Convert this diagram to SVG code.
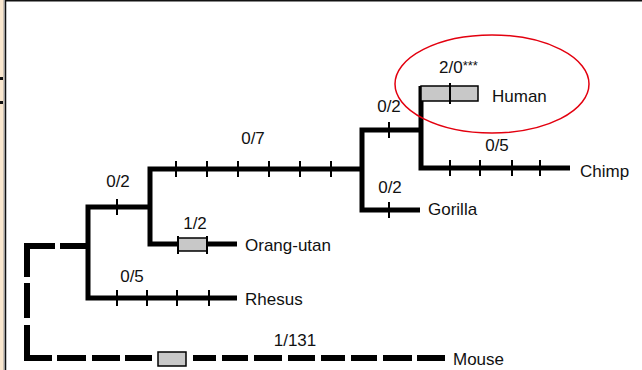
<svg xmlns="http://www.w3.org/2000/svg" width="642" height="370" viewBox="0 0 642 370">
<style>
.br{fill:none;stroke:#000;stroke-width:5;stroke-linejoin:miter;stroke-linecap:butt}
.ds{fill:none;stroke:#000;stroke-width:6;stroke-linejoin:miter;stroke-linecap:butt}
.tk{stroke:#000;stroke-width:2}
.box{fill:#c8c8c8;stroke:#000;stroke-width:1.5}
text{font-family:"Liberation Sans",Arial,sans-serif;font-size:17px;fill:#111}
.c{text-anchor:middle}
</style>
<rect width="642" height="370" fill="#fff"/>
<g id="frame">
<rect x="0" y="0" width="4" height="370" fill="#fbe8cf"/>
<line x1="4" y1="0" x2="4" y2="370" stroke="#999" stroke-width="1"/>
<line x1="5.5" y1="0" x2="5.5" y2="370" stroke="#111" stroke-width="1.5"/>
<line x1="5" y1="0.8" x2="642" y2="0.8" stroke="#111" stroke-width="1.6"/>
<rect x="0" y="77" width="3" height="3" fill="#111"/>
<rect x="0" y="101" width="3" height="3" fill="#111"/>
</g>
<g id="connectors">
<path class="ds" d="M55,246 H27 V277"/>
<path class="ds" d="M60,246 H88"/>
<path class="ds" d="M27,283 V318"/>
<path class="ds" d="M27,325 V358 H52"/>
<path class="ds" d="M57,358 H86 M92,358 H120 M125,358 H152 M193,358 H216 M222,358 H248 M254,358 H282 M288,358 H315 M321,358 H345 M351,358 H377 M383,358 H412 M417,358 H445"/>
<rect class="box" x="158" y="352" width="28" height="14" stroke="#333" stroke-width="1.2"/>
<path class="br" d="M150,207 H88 V298 H237"/>
<path class="br" d="M362,169 H150 V244 H237"/>
<path class="br" d="M420,130 H362 V210 H420"/>
<path class="br" d="M421,86 V168 H570"/>
<rect class="box" x="178" y="238" width="29" height="13"/>
<rect class="box" x="421" y="86" width="57" height="15"/>
<g class="tk">
<line x1="117" y1="199" x2="117" y2="215"/>
<line x1="176" y1="161" x2="176" y2="177"/>
<line x1="207" y1="161" x2="207" y2="177"/>
<line x1="238" y1="161" x2="238" y2="177"/>
<line x1="269" y1="161" x2="269" y2="177"/>
<line x1="300" y1="161" x2="300" y2="177"/>
<line x1="331" y1="161" x2="331" y2="177"/>
<line x1="117" y1="290" x2="117" y2="306"/>
<line x1="147" y1="290" x2="147" y2="306"/>
<line x1="177" y1="290" x2="177" y2="306"/>
<line x1="209" y1="290" x2="209" y2="306"/>
<line x1="389" y1="122" x2="389" y2="138"/>
<line x1="389" y1="202" x2="389" y2="218"/>
<line x1="450" y1="160" x2="450" y2="176"/>
<line x1="480" y1="160" x2="480" y2="176"/>
<line x1="512" y1="160" x2="512" y2="176"/>
<line x1="540" y1="160" x2="540" y2="176"/>
<line x1="178" y1="236" x2="178" y2="254"/>
<line x1="207" y1="236" x2="207" y2="254"/>
<line x1="450" y1="83" x2="450" y2="104"/>
</g>
</g>
<g id="branch-labels">
<text class="c" x="118" y="187">0/2</text>
<text class="c" x="253" y="144">0/7</text>
<text class="c" x="195" y="229">1/2</text>
<text class="c" x="132" y="282">0/5</text>
<text class="c" x="295" y="346">1/131</text>
<text class="c" x="389" y="112">0/2</text>
<text class="c" x="390" y="193">0/2</text>
<text class="c" x="497" y="151">0/5</text>
<text x="439" y="73">2/0<tspan font-size="13" dy="-3">***</tspan></text>
</g>
<g id="human"><text x="492" y="102">Human</text></g>
<g id="chimp"><text x="580" y="177">Chimp</text></g>
<g id="gorilla"><text x="428" y="215">Gorilla</text></g>
<g id="orang-utan"><text x="245" y="251">Orang-utan</text></g>
<g id="rhesus"><text x="245" y="305">Rhesus</text></g>
<g id="mouse"><text x="453" y="365">Mouse</text></g>
<g id="highlight">
<ellipse cx="492" cy="84" rx="97" ry="49" fill="none" stroke="#e3000f" stroke-width="1.5"/>
</g>
</svg>
